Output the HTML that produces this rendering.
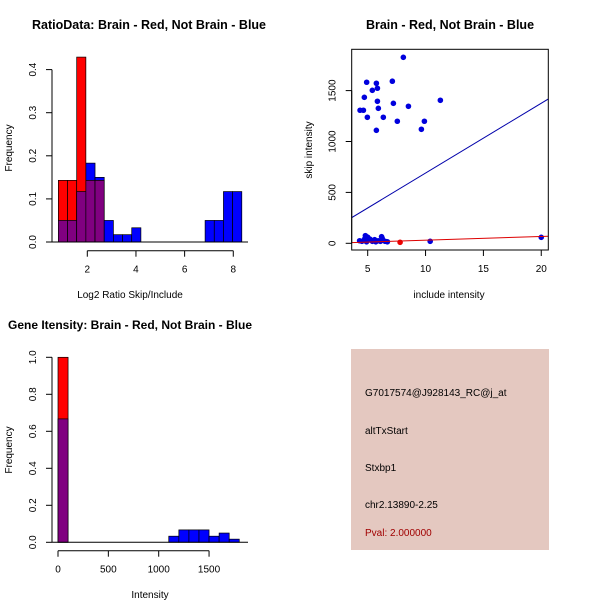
<!DOCTYPE html>
<html><head><meta charset="utf-8"><style>
body{margin:0;background:#fff}
svg{display:block;font-family:"Liberation Sans",sans-serif}
</style></head><body>
<svg id="svg" width="600" height="600" viewBox="0 0 600 600" xmlns="http://www.w3.org/2000/svg">
<rect width="600" height="600" fill="#fff"/>
<text x="149" y="29" font-size="12.5" font-weight="bold" text-anchor="middle">RatioData: Brain - Red, Not Brain - Blue</text>
<text x="450" y="29" font-size="12.5" font-weight="bold" text-anchor="middle">Brain - Red, Not Brain - Blue</text>
<text x="130" y="329" font-size="12" font-weight="bold" text-anchor="middle">Gene Itensity: Brain - Red, Not Brain - Blue</text>
<text x="130" y="298" font-size="10" text-anchor="middle">Log2 Ratio Skip/Include</text>
<text x="449" y="298" font-size="10" text-anchor="middle">include intensity</text>
<text x="150" y="598" font-size="10" text-anchor="middle">Intensity</text>
<text transform="translate(12,148) rotate(-90)" font-size="10" text-anchor="middle">Frequency</text>
<text transform="translate(312,150) rotate(-90)" font-size="10" text-anchor="middle">skip intensity</text>
<text transform="translate(12,450) rotate(-90)" font-size="10" text-anchor="middle">Frequency</text>
<g id="p1"></g><g id="p2"></g><g id="p3"></g>
<rect x="351" y="349" width="198" height="201" fill="#e4c8c0"/>
<g font-size="10">
<text x="365" y="396">G7017574@J928143_RC@j_at</text>
<text x="365" y="434">altTxStart</text>
<text x="365" y="471">Stxbp1</text>
<text x="365" y="508">chr2.13890-2.25</text>
<text x="365" y="536" fill="#a00000">Pval: 2.000000</text>
</g>
</svg>
<script>
// Ratio histogram data
const ratioBinStart = 0.81;
const ratioBinWidth = 0.377;
const ratioRed = [0.143,0.143,0.429,0.143,0.143];
const ratioBlue = [0.05,0.05,0.117,0.183,0.15,0.05,0.017,0.017,0.033,0,0,0,0,0,0,0,0.05,0.05,0.117,0.117];
const ratioXTicks = [2,4,6,8];
const ratioYTicks = [0,0.1,0.2,0.3,0.4];
// Scatter data
const scatX = [4.91,5.75,7.13,8.08,5.4,5.84,4.71,5.84,7.22,8.52,11.28,5.92,4.34,4.63,4.97,6.35,7.56,9.9,5.75,9.64,
  4.3,4.5,4.7,4.8,4.9,5.0,5.2,5.4,5.6,5.7,5.9,6.1,6.2,6.3,6.5,6.7,4.75,5.05,6.25,10.4,20];
const scatY = [1582,1572,1592,1827,1503,1523,1434,1395,1375,1346,1405,1326,1307,1307,1238,1238,1199,1199,1110,1120,
  25,20,30,75,15,60,40,20,35,15,25,20,65,30,20,15,45,30,50,20,59];
const scatRedX = [7.8];
const scatRedY = [10];
const blueLine = [68.6, 3.9];
const redLine = [3.65, -6];
const scatXTicks = [5,10,15,20];
const scatYTicks = [0,500,1000,1500];
// Intensity histogram data
const intBinWidth = 100;
const intRed = [1.0];
const intBlue = [0.667,0,0,0,0,0,0,0,0,0,0,0.033,0.067,0.067,0.067,0.033,0.05,0.017];
const intXTicks = [0,500,1000,1500];
const intYTicks = [0,0.2,0.4,0.6,0.8,1.0];

const NS="http://www.w3.org/2000/svg";
function mk(parent,tag,attrs){const e=document.createElementNS(NS,tag);for(const k in attrs)e.setAttribute(k,attrs[k]);parent.appendChild(e);return e;}

function hist(g,red,blue,start,w,sx,sy,y0,prefix){
  const n=Math.max(red.length,blue.length);
  for(let i=0;i<n;i++){
    const r=red[i]||0,b=blue[i]||0;if(r===0&&b===0)continue;
    const x1=sx(start+i*w),x2=sx(start+(i+1)*w);
    const hi=Math.max(r,b),lo=Math.min(r,b);
    const rc=mk(g,'rect',{x:x1,y:sy(hi),width:x2-x1,height:sy(0)-sy(hi),fill:r>=b?'#ff0000':'#0000ff',stroke:'#000','stroke-width':0.7});
    
    
    if(lo>0){const p=mk(g,'rect',{x:x1,y:sy(lo),width:x2-x1,height:sy(0)-sy(lo),fill:'#800080',stroke:'#000','stroke-width':0.7});
      
      }
  }
}
function yaxis(g,x,ticks,sy,fmt,name){
  const a=mk(g,'line',{x1:x,x2:x,y1:sy(ticks[0]),y2:sy(ticks[ticks.length-1]),stroke:'#000'});
  
  
  ticks.forEach(t=>{mk(g,'line',{x1:x-6,x2:x,y1:sy(t),y2:sy(t),stroke:'#000'});
    const tx=mk(g,'text',{transform:`translate(${x-16},${sy(t)}) rotate(-90)`,'font-size':10,'text-anchor':'middle'});tx.textContent=fmt(t);
    
    });
}
function xaxis(g,y,ticks,sx,fmt,name){
  const a=mk(g,'line',{x1:sx(ticks[0]),x2:sx(ticks[ticks.length-1]),y1:y,y2:y,stroke:'#000'});
  
  
  ticks.forEach(t=>{mk(g,'line',{x1:sx(t),x2:sx(t),y1:y,y2:y+6,stroke:'#000'});
    const tx=mk(g,'text',{x:sx(t),y:y+22,'font-size':10,'text-anchor':'middle'});tx.textContent=fmt(t);
    
    });
}

// Panel 1
(function(){
  const g=document.getElementById('p1');
  const sx=v=>87.3+(v-2)*24.33, sy=v=>242-v*431;
  hist(g,ratioRed,ratioBlue,ratioBinStart,ratioBinWidth,sx,sy,0,'ratio');
  mk(g,'line',{x1:52,x2:248,y1:242,y2:242,stroke:'#000'});
  yaxis(g,52,ratioYTicks,sy,t=>t.toFixed(1),'ratio-y-axis');
  xaxis(g,250.7,ratioXTicks,sx,t=>String(t),'ratio-x-axis');
})();
// Panel 2
(function(){
  const g=document.getElementById('p2');
  const sx=v=>367.7+(v-5)*11.57, sy=v=>243.3-v*0.1018;
  const cp=mk(g,'clipPath',{id:'c2'});mk(cp,'rect',{x:351.7,y:49.3,width:196.6,height:200.7});
  const lg=mk(g,'g',{'clip-path':'url(#c2)'});
  const x0=3.5,x1=21;
  const bl=mk(lg,'line',{x1:sx(x0),y1:sy(blueLine[0]*x0+blueLine[1]),x2:sx(x1),y2:sy(blueLine[0]*x1+blueLine[1]),stroke:'#0000aa'});
  
  
  for(let i=0;i<scatX.length;i++){const c=mk(lg,'circle',{cx:sx(scatX[i]),cy:sy(scatY[i]),r:2.8,fill:'#0000dd'});
    
    }
  for(let i=0;i<scatRedX.length;i++){const c=mk(lg,'circle',{cx:sx(scatRedX[i]),cy:sy(scatRedY[i]),r:2.8,fill:'#ee0000'});
    
    }
  const rl=mk(lg,'line',{x1:sx(x0),y1:sy(redLine[0]*x0+redLine[1]),x2:sx(x1),y2:sy(redLine[0]*x1+redLine[1]),stroke:'#dd0000'});
  
  
  const b=mk(g,'rect',{x:351.7,y:49.3,width:196.6,height:200.7,fill:'none',stroke:'#000'});
  
  
  yaxis(g,351.7,scatYTicks,sy,t=>String(t),'scatter-y-axis');
  xaxis(g,250,scatXTicks,sx,t=>String(t),'scatter-x-axis');
})();
// Panel 3
(function(){
  const g=document.getElementById('p3');
  const sx=v=>58+v*0.1007, sy=v=>542.3-v*185;
  hist(g,intRed,intBlue,0,intBinWidth,sx,sy,0,'intensity');
  mk(g,'line',{x1:52,x2:248,y1:542.3,y2:542.3,stroke:'#000'});
  yaxis(g,52,intYTicks,sy,t=>t.toFixed(1),'intensity-y-axis');
  xaxis(g,550.7,intXTicks,sx,t=>String(t),'intensity-x-axis');
})();
</script>
</body></html>
